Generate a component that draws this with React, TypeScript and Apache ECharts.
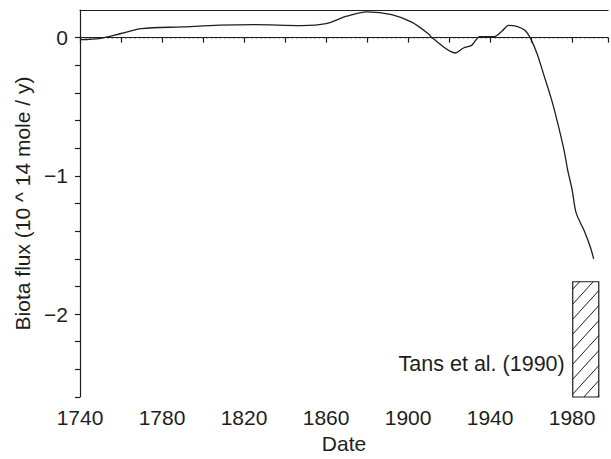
import React, { useEffect, useRef } from "react";
import * as echarts from "echarts";

const years = [1740, 1750, 1760, 1770, 1790, 1808, 1825, 1848, 1860, 1870, 1880, 1892, 1902, 1910, 1912, 1923, 1927, 1931, 1935, 1942, 1946, 1949, 1953, 1957, 1960, 1963, 1966, 1970, 1973, 1976, 1978, 1980, 1982, 1986, 1989, 1990.5];
const flux = [-0.015, -0.005, 0.03, 0.065, 0.078, 0.09, 0.094, 0.087, 0.101, 0.155, 0.186, 0.167, 0.111, 0.027, -0.005, -0.111, -0.075, -0.056, 0.008, 0.008, 0.05, 0.089, 0.082, 0.053, -0.014, -0.12, -0.26, -0.45, -0.62, -0.81, -0.97, -1.10, -1.27, -1.40, -1.52, -1.60];

// Tans et al. (1990) estimate box: [startYear, endYear, top, bottom]
const tansBox = [1980.3, 1993, -1.766, -2.6];
const tansLabel = "Tans et al. (1990)";

const xMin = 1740;
const xMax = 1997.5;
const yMin = -2.6;
const yMax = 0.2;

const FONT = "'Liberation Sans', Arial, Helvetica, sans-serif";
const INK = "#1e1e1e";

export default function App() {
  const ref = useRef<HTMLDivElement>(null);
  useEffect(() => {
    if (!ref.current) return;
    const chart = echarts.init(ref.current, null, { renderer: "svg" });
    const lineData = years.map((y, i) => [y, flux[i]]);
    const zeroLine = [[xMin, 0], [xMax, 0]];
    chart.setOption({
      animation: false,
      backgroundColor: "#ffffff",
      grid: { left: 80, top: 10, right: 0, bottom: 62 },
      xAxis: [
        {
          type: "value",
          min: xMin,
          max: xMax,
          interval: 20,
          name: "Date",
          nameLocation: "middle",
          nameGap: 35,
          nameTextStyle: { fontFamily: FONT, fontSize: 21, color: INK },
          axisLine: { show: true, lineStyle: { color: INK, width: 1.2 } },
          axisTick: { show: true, length: 5, lineStyle: { color: INK, width: 1.2 } },
          axisLabel: {
            margin: 10,
            fontFamily: FONT,
            fontSize: 21,
            color: INK,
            formatter: (v: number) => ((v - 1740) % 40 === 0 ? String(v) : ""),
          },
          splitLine: { show: false },
        },
        {
          type: "value",
          position: "top",
          min: xMin,
          max: xMax,
          axisLine: { show: true, lineStyle: { color: INK, width: 1.2 } },
          axisTick: { show: false },
          axisLabel: { show: false },
          splitLine: { show: false },
        },
      ],
      yAxis: {
        type: "value",
        min: yMin,
        max: yMax,
        interval: 0.2,
        name: "Biota flux (10 ^ 14 mole / y)",
        nameLocation: "middle",
        nameGap: 45,
        nameTextStyle: { fontFamily: FONT, fontSize: 21, color: INK },
        axisLine: { show: true, lineStyle: { color: INK, width: 1.2 } },
        axisTick: { show: true, length: 5, lineStyle: { color: INK, width: 1.2 } },
        axisLabel: {
          margin: 12,
          fontFamily: FONT,
          fontSize: 21,
          color: INK,
          showMaxLabel: false,
          formatter: (v: number) => {
            const r = Math.round(v);
            if (Math.abs(v - r) > 1e-6) return "";
            if (r === 0) return "0";
            return (r < 0 ? "\u2212" : "") + Math.abs(r);
          },
        },
        splitLine: { show: false },
      },
      series: [
        {
          type: "line",
          data: zeroLine,
          showSymbol: false,
          silent: true,
          lineStyle: { color: INK, width: 1.1, type: [2, 2.5] },
        },
        {
          type: "line",
          data: lineData,
          smooth: 0.3,
          showSymbol: false,
          lineStyle: { color: INK, width: 1.3 },
        },
        {
          type: "custom",
          data: [tansBox],
          renderItem: (params: any, api: any) => {
            const pTL = api.coord([api.value(0), api.value(2)]);
            const pBR = api.coord([api.value(1), api.value(3)]);
            const xl = pTL[0], yt = pTL[1], xr = pBR[0], yb = pBR[1];
            const children: any[] = [
              {
                type: "rect",
                shape: { x: xl, y: yt, width: xr - xl, height: yb - yt },
                style: { fill: "#ffffff", stroke: INK, lineWidth: 1.2 },
              },
            ];
            const k = 1.1;
            const step = 15;
            for (let c = yt + k * xl + step * 0.5; c < yb + k * xr; c += step) {
              const xa = Math.max(xl, (c - yb) / k);
              const xb = Math.min(xr, (c - yt) / k);
              if (xb - xa < 0.5) continue;
              children.push({
                type: "line",
                shape: { x1: xa, y1: c - k * xa, x2: xb, y2: c - k * xb },
                style: { stroke: INK, lineWidth: 1 },
              });
            }
            children.push({
              type: "text",
              style: {
                text: tansLabel,
                x: xl - 8,
                y: yb - 33,
                align: "right",
                verticalAlign: "middle",
                fontFamily: FONT,
                fontSize: 21.5,
                fill: INK,
              },
            });
            return { type: "group", children };
          },
        },
      ],
    });
    return () => chart.dispose();
  }, []);
  return (
    <div
      ref={ref}
      style={{ position: "fixed", left: 0, top: 0, width: 611, height: 459 }}
    />
  );
}
